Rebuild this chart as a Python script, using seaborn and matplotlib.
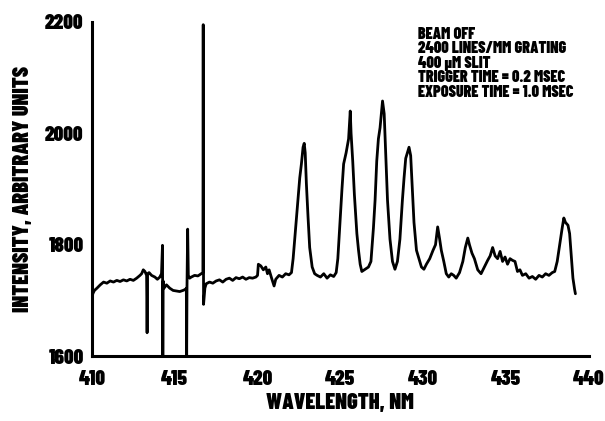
import matplotlib
matplotlib.use("Agg")
import matplotlib.pyplot as plt
import seaborn as sns
import pandas as pd
from matplotlib.ticker import MultipleLocator

# ---- data ----
wavelength_nm = [
    410.00, 410.05, 410.15, 410.30, 410.50, 410.70, 410.90, 411.10, 411.30, 411.50,
    411.70, 411.90, 412.10, 412.30, 412.50, 412.70, 412.90, 413.00, 413.10, 413.20,
    413.30, 413.33, 413.36, 413.45, 413.60, 413.80, 413.95, 414.10, 414.20, 414.26,
    414.28, 414.30, 414.35, 414.50, 414.70, 414.90, 415.10, 415.30, 415.50, 415.65,
    415.70, 415.72, 415.74, 415.78, 415.82, 415.90, 416.00, 416.20, 416.40, 416.60,
    416.70, 416.72, 416.74, 416.82, 416.90, 417.10, 417.30, 417.50, 417.70, 417.90,
    418.10, 418.30, 418.50, 418.70, 418.90, 419.10, 419.30, 419.50, 419.70, 419.90,
    420.00, 420.05, 420.20, 420.35, 420.50, 420.60, 420.70, 420.85, 421.00, 421.10,
    421.30, 421.50, 421.70, 421.90, 422.05, 422.15, 422.30, 422.45, 422.55, 422.65,
    422.75, 422.82, 422.88, 422.95, 423.05, 423.15, 423.30, 423.45, 423.60, 423.80,
    424.00, 424.20, 424.40, 424.60, 424.75, 424.85, 425.00, 425.10, 425.20, 425.35,
    425.50, 425.60, 425.65, 425.75, 425.85, 426.00, 426.10, 426.20, 426.30, 426.50,
    426.70, 426.85, 427.00, 427.10, 427.20, 427.30, 427.40, 427.55, 427.65, 427.75,
    427.85, 428.00, 428.15, 428.30, 428.45, 428.60, 428.75, 428.85, 428.95, 429.05,
    429.15, 429.25, 429.35, 429.45, 429.60, 429.75, 429.90, 430.05, 430.20, 430.40,
    430.60, 430.75, 430.88, 431.00, 431.10, 431.25, 431.40, 431.55, 431.70, 431.85,
    432.00, 432.20, 432.40, 432.55, 432.70, 432.80, 432.95, 433.10, 433.30, 433.50,
    433.70, 433.90, 434.05, 434.20, 434.35, 434.50, 434.65, 434.80, 434.95, 435.10,
    435.25, 435.40, 435.55, 435.70, 435.85, 436.00, 436.20, 436.40, 436.60, 436.80,
    437.00, 437.20, 437.40, 437.60, 437.80, 437.95, 438.10, 438.25, 438.40, 438.50,
    438.60, 438.75, 438.85, 438.95, 439.05, 439.15, 439.20,
]
intensity = [
    1700, 1712, 1718, 1722, 1728, 1733, 1731, 1735, 1733, 1736,
    1734, 1737, 1735, 1738, 1736, 1740, 1745, 1748, 1755, 1752,
    1745, 1642, 1748, 1750, 1745, 1742, 1738, 1742, 1748, 1799,
    1600, 1735, 1722, 1728, 1722, 1718, 1717, 1716, 1718, 1720,
    1722, 1600, 1725, 1828, 1745, 1740, 1742, 1745, 1744, 1748,
    1750, 2195, 1693, 1722, 1730, 1733, 1731, 1735, 1737, 1733,
    1738, 1740, 1736, 1741, 1739, 1742, 1738, 1741, 1740, 1742,
    1745, 1765, 1762, 1755, 1760, 1748, 1755, 1740, 1726, 1738,
    1745, 1742, 1748, 1746, 1750, 1775, 1830, 1885, 1920, 1945,
    1975, 1982, 1965, 1910, 1850, 1795, 1760, 1748, 1745, 1742,
    1748, 1740, 1746, 1743, 1750, 1775, 1850, 1900, 1945, 1965,
    1990, 2040, 2000, 1950, 1890, 1820, 1790, 1765, 1752, 1756,
    1760, 1770, 1830, 1880, 1950, 1990, 2010, 2058, 2035, 1960,
    1880, 1810, 1770, 1756, 1770, 1810, 1880, 1920, 1955, 1965,
    1975, 1960, 1900, 1840, 1790, 1775, 1760, 1756, 1765, 1775,
    1790, 1800, 1832, 1810, 1790, 1770, 1748, 1742, 1748, 1745,
    1740, 1750, 1770, 1795, 1812, 1800, 1785, 1775, 1755, 1748,
    1760, 1772, 1780, 1795, 1780, 1775, 1788, 1770, 1778, 1765,
    1775, 1772, 1770, 1752, 1755, 1745, 1748, 1740, 1743, 1738,
    1745, 1742, 1748, 1745, 1750, 1752, 1770, 1800, 1830, 1848,
    1840, 1835, 1820, 1780, 1740, 1720, 1712,
]
x_ticks = [410, 415, 420, 425, 430, 435, 440]
y_ticks = [1600, 1800, 2000, 2200]
x_label = "WAVELENGTH, NM"
y_label = "INTENSITY, ARBITRARY UNITS"
notes = ["BEAM OFF", "2400 LINES/MM GRATING", "400 \u03bcM SLIT",
         "TRIGGER TIME = 0.2 MSEC", "EXPOSURE TIME = 1.0 MSEC"]

df = pd.DataFrame({"wl": wavelength_nm, "I": intensity})

sns.set_theme(style="white")
plt.rcParams['font.family'] = ['Barlow Condensed', 'DejaVu Sans']
W = 'black'

fig = plt.figure(figsize=(6.05, 4.21), dpi=100)
ax = fig.add_axes([0.152, 0.154, 0.821, 0.794])

sns.lineplot(data=df, x="wl", y="I", sort=False, estimator=None,
             color="black", linewidth=2.0, ax=ax)

ax.set_xlim(410, 440)
ax.set_ylim(1600, 2200)
ax.set_xticks(x_ticks)
ax.set_yticks(y_ticks)
ax.xaxis.set_minor_locator(MultipleLocator(2.5))
ax.yaxis.set_minor_locator(MultipleLocator(100))

for s in ["top", "right"]:
    ax.spines[s].set_visible(False)
for s in ["left", "bottom"]:
    ax.spines[s].set_linewidth(2.2)
    ax.spines[s].set_color("black")

ax.tick_params(axis="both", which="major", direction="in", length=6, width=1.8,
               colors="black", labelsize=15)
ax.tick_params(axis="both", which="minor", direction="in", length=5, width=1.5,
               colors="black")
ax.tick_params(axis="x", which="major", pad=10)
ax.tick_params(axis="y", which="major", pad=6)
for lab in ax.get_xticklabels() + ax.get_yticklabels():
    lab.set_fontweight(W)

ax.set_xlabel(x_label, fontsize=16, fontweight=W, labelpad=3, color="black")
ax.set_ylabel(y_label, fontsize=16, fontweight=W, labelpad=9, color="black")

ax.text(0.657, 0.985, "\n".join(notes), transform=ax.transAxes, ha="left", va="top",
        fontsize=11.5, fontweight=W, linespacing=0.95, color="black")

fig.savefig("out.png", dpi=100)
